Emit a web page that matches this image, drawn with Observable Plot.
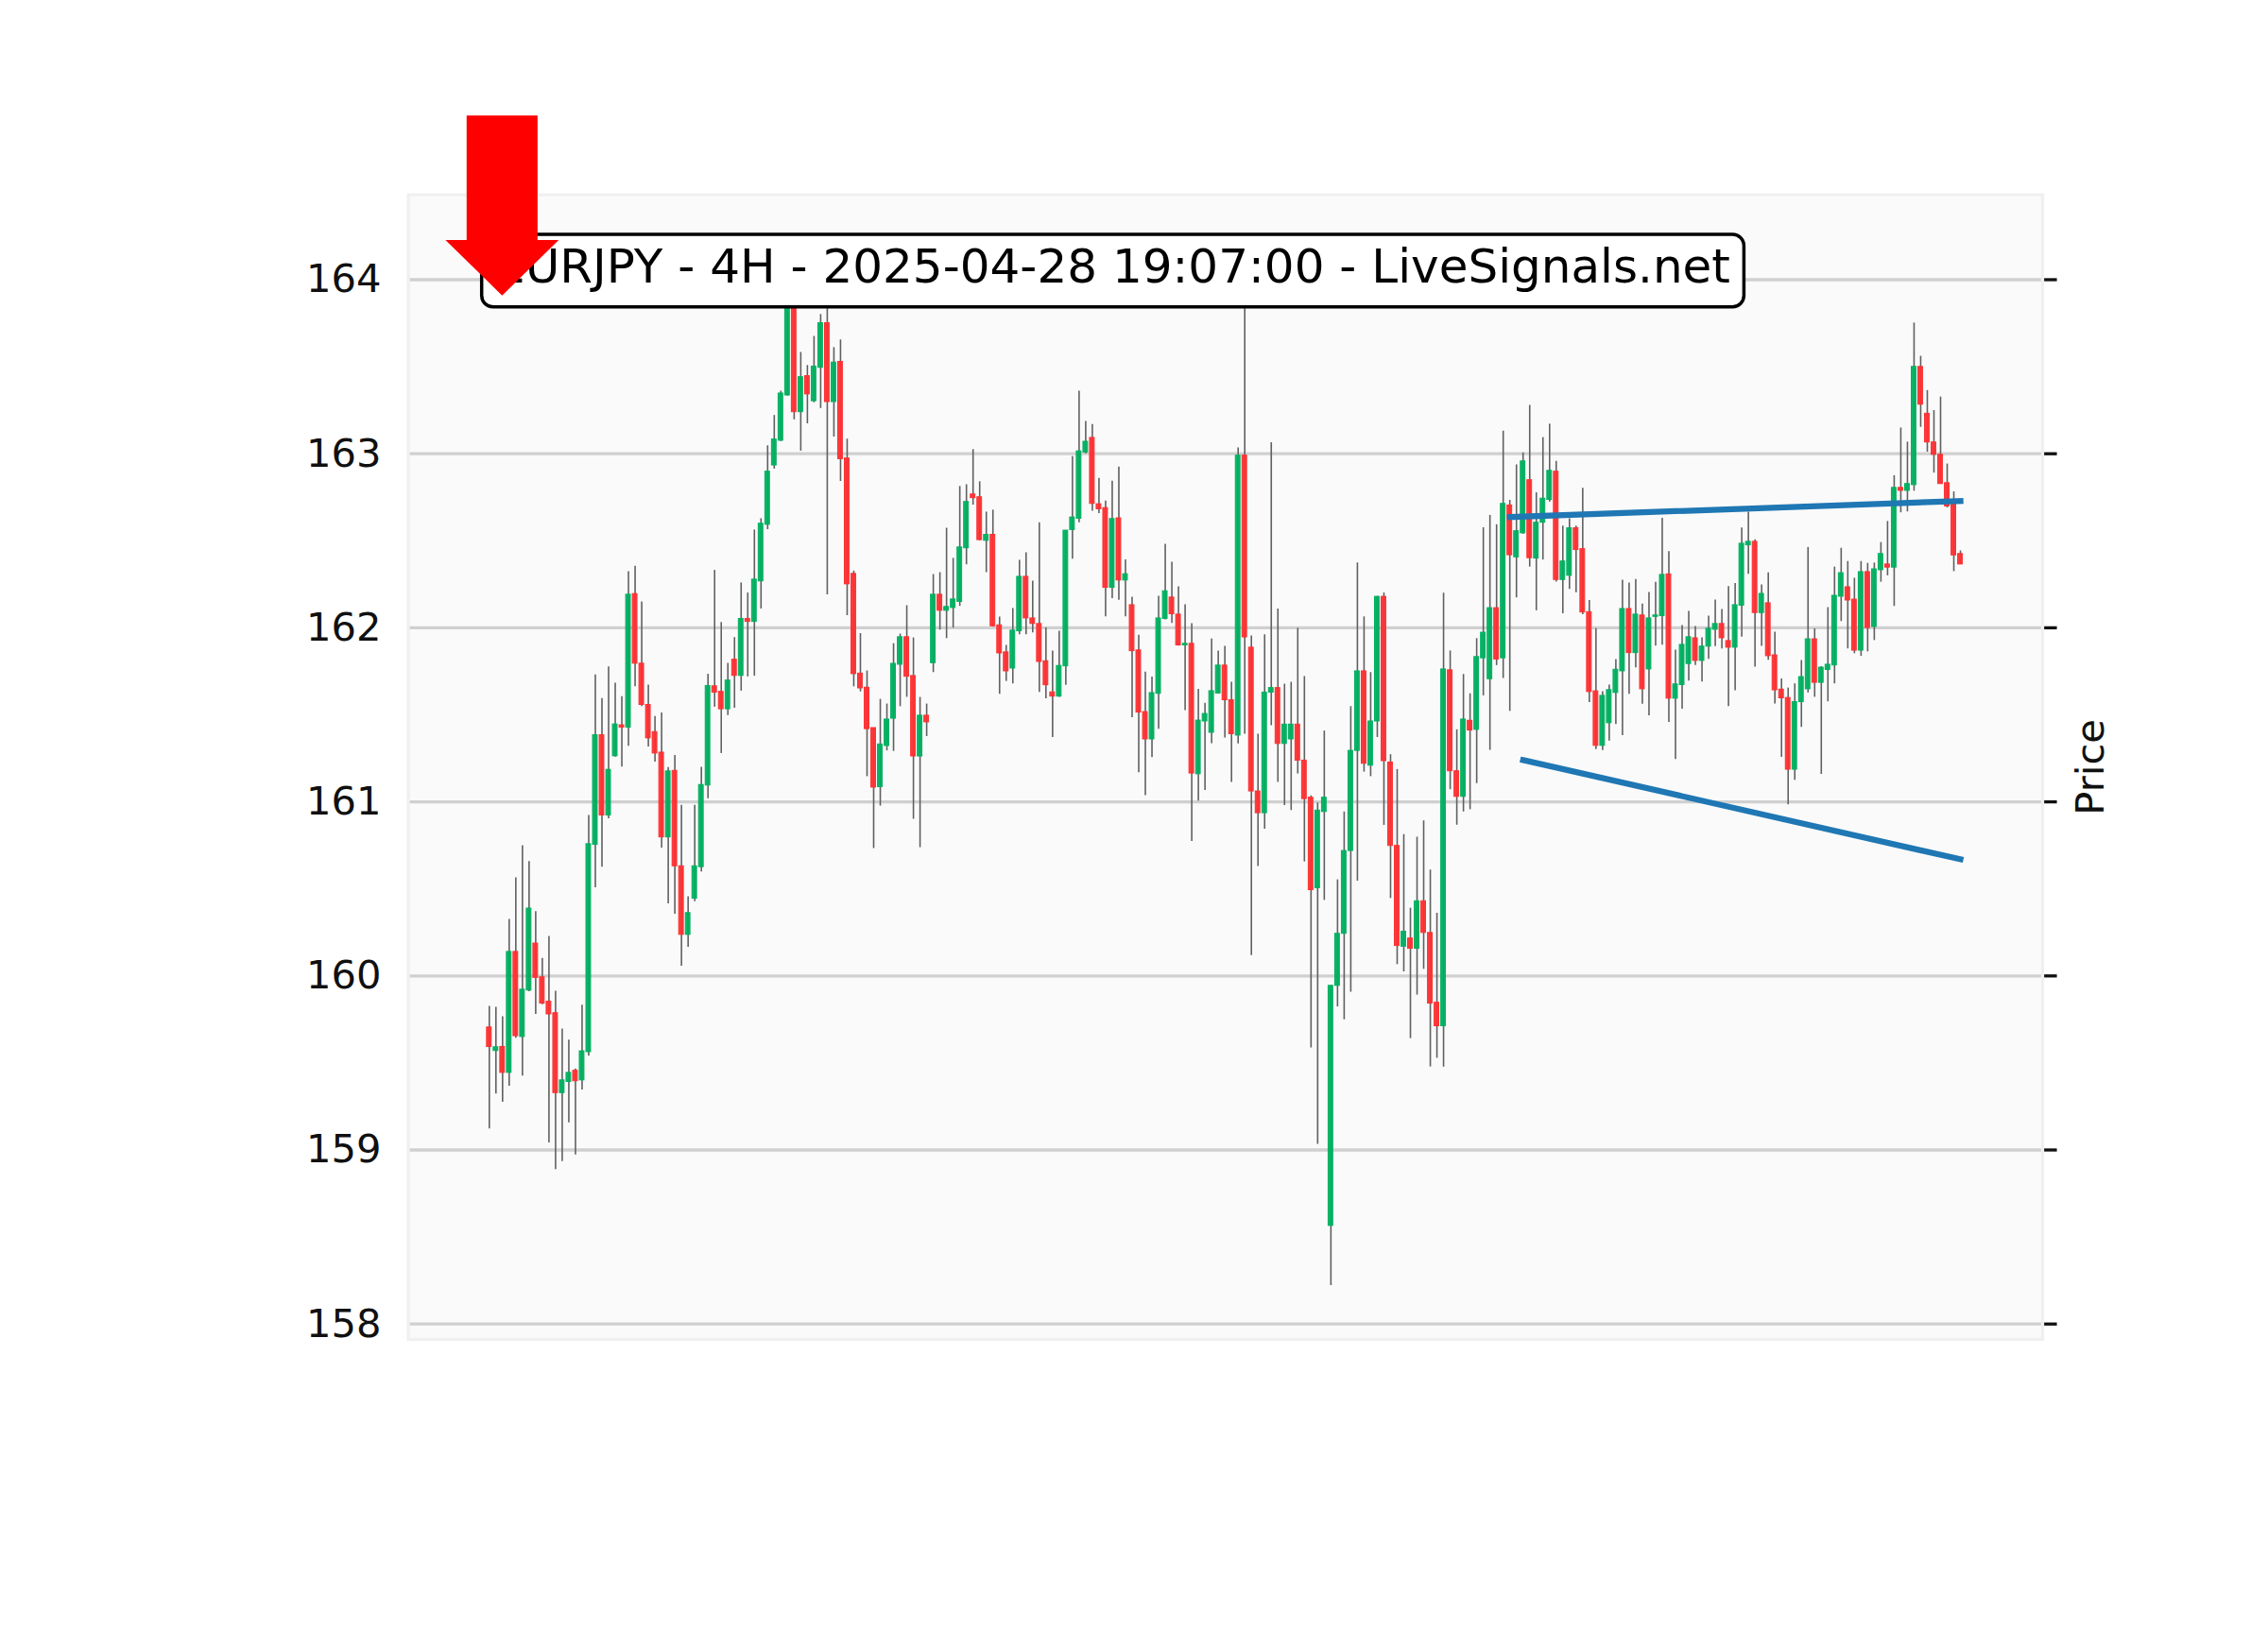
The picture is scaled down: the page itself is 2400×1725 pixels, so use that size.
<!DOCTYPE html>
<html><head><meta charset="utf-8">
<script src="https://cdn.jsdelivr.net/npm/d3@7"></script>
<script src="https://cdn.jsdelivr.net/npm/@observablehq/plot@0.6"></script>
<style>html,body{margin:0;padding:0;background:#fff;}#chart svg{display:block;}</style>
</head><body><div id="chart"></div>
<script>
const opens = [159.704,159.569,159.592,159.443,160.138,159.649,159.916,160.186,159.992,159.852,
159.786,159.327,159.391,159.455,159.400,159.562,160.753,161.383,160.922,161.262,
161.440,161.427,162.194,161.794,161.557,161.401,161.283,160.796,161.178,160.630,
160.236,160.444,160.625,161.094,161.664,161.632,161.532,161.817,161.724,162.051,
162.034,162.267,162.592,162.933,163.075,163.335,163.950,163.239,163.446,163.302,
163.494,163.750,163.297,163.528,162.973,162.310,161.737,161.656,161.424,161.085,
161.321,161.478,161.788,161.946,161.723,161.261,161.495,161.797,162.190,162.098,
162.114,162.149,162.457,162.766,162.750,162.500,162.534,162.014,161.859,161.766,
161.980,162.293,162.054,162.022,161.808,161.629,161.605,161.779,162.562,162.627,
163.007,163.091,162.710,162.688,162.230,162.629,162.272,162.130,161.870,161.516,
161.359,161.621,162.051,162.174,162.076,161.899,161.908,161.159,161.462,161.397,
161.623,161.783,161.584,161.381,162.989,161.886,161.060,160.935,161.628,161.654,
161.333,161.359,161.444,161.237,161.024,160.504,160.942,158.564,159.943,160.242,
160.718,161.293,161.750,161.208,161.462,162.178,161.226,160.747,160.168,160.215,
160.156,160.429,160.247,159.846,159.711,161.756,161.176,161.029,161.466,161.414,
161.825,161.705,162.113,161.825,162.703,162.405,162.543,162.848,162.398,162.604,
162.735,162.897,162.275,162.299,162.572,162.452,162.090,161.635,161.322,161.452,
161.626,161.750,162.108,161.855,162.071,161.761,162.063,162.067,162.307,161.593,
161.671,161.792,161.940,161.810,161.892,161.989,162.022,161.924,161.886,162.127,
162.474,162.494,162.085,162.141,161.842,161.645,161.597,161.185,161.573,161.647,
161.934,161.684,161.758,161.784,162.179,162.233,162.162,161.869,162.320,162.005,
162.331,162.364,162.346,162.804,162.787,162.820,163.499,163.230,163.065,162.994,
162.831,162.726,162.424];
const highs = [159.825,159.820,159.766,160.325,160.563,160.748,160.657,160.369,160.101,160.227,
159.912,159.695,159.631,159.466,159.832,160.922,161.730,161.593,161.776,161.682,
161.605,162.322,162.354,162.149,161.671,161.491,161.511,161.198,161.266,160.980,
160.455,160.980,161.199,161.733,162.330,162.030,161.796,161.944,162.258,162.200,
162.562,162.627,163.046,163.220,163.360,164.050,164.050,163.582,163.507,163.674,
163.800,163.950,163.610,163.654,163.084,162.326,161.967,161.752,161.424,161.589,
161.562,161.909,161.964,162.127,161.942,161.600,161.562,162.306,162.317,162.572,
162.399,162.812,162.822,163.024,162.839,162.665,162.676,162.062,161.899,162.111,
162.388,162.431,162.268,162.603,162.000,161.866,161.980,162.560,162.984,163.359,
163.185,163.168,162.859,162.728,162.842,162.924,162.391,162.176,161.957,161.746,
161.717,162.181,162.480,162.377,162.236,162.132,162.024,161.647,161.567,161.935,
161.866,161.894,161.687,163.033,164.000,161.953,161.389,161.960,163.063,162.108,
161.676,161.687,161.997,161.720,161.035,160.994,161.407,159.943,160.552,160.942,
161.547,162.373,162.063,161.743,162.180,162.200,161.271,161.186,160.812,160.389,
160.797,160.891,160.608,160.360,162.199,161.867,161.414,161.732,161.621,161.938,
162.575,162.646,162.592,163.130,162.732,162.936,163.005,163.278,162.776,163.093,
163.170,162.956,162.585,162.626,162.585,162.801,162.157,161.996,161.633,161.671,
161.817,162.273,162.257,162.278,162.137,162.203,162.262,162.629,162.438,161.872,
162.013,162.094,162.007,161.942,162.067,162.159,162.105,162.237,162.255,162.573,
162.665,162.506,162.246,162.316,161.975,161.706,161.654,161.678,161.812,162.462,
161.994,161.777,162.116,162.349,162.457,162.381,162.285,162.381,162.370,162.372,
162.490,162.611,162.874,163.148,163.067,163.751,163.560,163.363,163.248,163.326,
162.941,162.781,162.442];
const lows = [159.121,159.322,159.274,159.366,159.642,159.425,159.910,159.779,159.835,159.041,
158.888,158.934,159.156,158.971,159.345,159.539,160.506,160.625,160.903,161.257,
161.200,161.319,161.662,161.548,161.315,161.228,160.734,160.414,160.354,160.056,
160.164,160.426,160.597,161.018,161.544,161.278,161.496,161.538,161.636,161.718,
161.722,162.108,162.564,162.912,163.070,163.331,163.195,163.015,163.172,163.293,
163.260,162.189,163.096,162.841,162.070,161.661,161.632,161.145,160.732,160.976,
161.293,161.290,161.547,161.601,160.900,160.737,161.375,161.743,161.987,161.938,
161.998,162.123,162.362,162.705,162.500,162.317,162.005,161.618,161.692,161.678,
161.960,161.960,161.971,161.629,161.592,161.370,161.600,161.670,162.395,162.603,
163.000,162.670,162.656,162.063,162.168,162.158,162.063,161.484,161.167,161.036,
161.254,161.417,162.045,162.025,161.895,161.525,160.772,161.004,161.065,161.335,
161.620,161.367,161.112,161.333,161.389,160.117,160.629,160.843,161.437,161.112,
160.979,160.950,161.160,160.655,159.586,159.032,160.434,158.221,159.822,159.748,
159.906,160.544,161.171,161.145,161.370,160.865,160.445,160.065,160.023,159.640,
159.890,160.038,159.477,159.527,159.477,161.070,160.866,160.942,160.955,161.105,
161.609,161.296,161.783,161.709,161.520,162.172,162.538,162.349,162.098,162.390,
162.722,162.263,162.081,162.221,162.201,162.076,161.570,161.300,161.295,161.349,
161.445,161.380,161.618,161.770,161.561,161.494,161.895,161.901,161.456,161.244,
161.532,161.694,161.783,161.689,161.819,161.892,161.879,161.548,161.638,161.946,
162.307,161.774,161.893,161.814,161.563,161.256,160.983,161.124,161.428,161.626,
161.601,161.158,161.575,161.678,162.036,161.879,161.851,161.836,161.862,161.927,
162.262,162.299,162.123,162.661,162.666,162.785,163.152,163.009,162.889,162.826,
162.689,162.323,162.364];
const closes = [159.592,159.590,159.443,160.138,159.654,159.921,160.387,159.989,159.841,159.779,
159.327,159.400,159.443,159.395,159.567,160.757,161.383,160.922,161.184,161.445,
161.427,162.190,161.794,161.557,161.365,161.278,160.796,161.175,160.630,160.236,
160.361,160.630,161.097,161.666,161.628,161.532,161.697,161.724,162.051,162.034,
162.277,162.598,162.897,163.082,163.346,163.950,163.239,163.440,163.341,163.501,
163.750,163.297,163.524,162.969,162.250,161.734,161.652,161.418,161.082,161.330,
161.473,161.793,161.946,161.719,161.261,161.495,161.457,162.190,162.098,162.120,
162.163,162.462,162.723,162.745,162.504,162.534,162.009,161.853,161.750,161.984,
162.293,162.054,162.022,161.804,161.670,161.605,161.781,162.558,162.634,163.014,
163.069,162.712,162.681,162.230,162.625,162.272,162.308,161.866,161.513,161.359,
161.625,162.054,162.210,162.078,161.899,161.908,161.163,161.467,161.505,161.636,
161.783,161.584,161.389,162.989,161.945,161.060,160.935,161.628,161.654,161.333,
161.444,161.444,161.237,161.016,160.493,160.950,161.024,159.943,160.242,160.718,
161.293,161.750,161.219,161.462,162.178,161.234,160.747,160.172,160.254,160.156,
160.429,160.247,159.841,159.711,161.761,161.176,161.029,161.473,161.410,161.832,
161.972,162.113,161.818,162.712,162.417,162.555,162.956,162.400,162.604,162.742,
162.902,162.275,162.381,162.572,162.447,162.088,161.631,161.322,161.609,161.642,
161.759,162.108,161.855,162.076,161.647,162.054,162.071,162.304,161.593,161.675,
161.902,161.946,161.810,161.892,161.995,162.022,161.940,161.886,162.130,162.483,
162.494,162.085,162.195,161.837,161.641,161.595,161.185,161.573,161.717,161.934,
161.684,161.771,161.788,162.184,162.314,162.157,161.869,162.320,161.999,162.336,
162.424,162.346,162.804,162.787,162.826,163.499,163.282,163.065,162.994,162.826,
162.698,162.416,162.364];

const yTicks = [158, 159, 160, 161, 162, 163, 164];
const titleText = "EURJPY - 4H - 2025-04-28 19:07:00 - LiveSignals.net";
const axisLabel = "Price";
// trend lines: candle index and price at both ends
const upperIdx = [154, 222];
const upperPrice = [162.636, 162.729];
const lowerIdx = [156, 222];
const lowerPrice = [161.24, 160.67];
// signal arrow: candle index, start price, tip price
const arrowIdx = 2;
const arrowFrom = 164.94;
const arrowTo = 163.907;

const candles = opens.map((o, i) => ({i, open: o, high: highs[i], low: lows[i], close: closes[i], up: closes[i] >= o}));
const upper = upperIdx.map((i, k) => ({i, price: upperPrice[k]}));
const lower = lowerIdx.map((i, k) => ({i, price: lowerPrice[k]}));

const FONT = "'DejaVu Sans', sans-serif";
const UP = "#00b060", DOWN = "#fe3032";
const TITLE_FS = 50, TITLE_PAD = 14.4;

function titleBox(index, scales, values, dim) {
  const left = dim.marginLeft + 78.1;
  const top = dim.marginTop + 42.3;
  const g = d3.create("svg:g").attr("class", "title-box");
  g.append("rect").attr("x", left).attr("y", top)
    .attr("width", 1337).attr("height", 48 + 2 * TITLE_PAD)
    .attr("rx", 12).attr("ry", 12)
    .attr("fill", "#ffffff").attr("stroke", "#000").attr("stroke-width", 3.5);
  g.append("text").attr("x", left + TITLE_PAD).attr("y", top + TITLE_PAD + 0.76 * 48)
    .attr("text-anchor", "start")
    .attr("font-family", FONT).attr("font-size", TITLE_FS).attr("fill", "#000")
    .text(titleText);
  return g.node();
}

function arrowMark(index, scales) {
  const x = scales.x, y = scales.y;
  const cx = x(arrowIdx);
  const sh = x(arrowIdx + 5.35) - cx;
  const hh = x(arrowIdx + 8.55) - cx;
  const top = y(arrowFrom), tip = y(arrowTo), base = y(arrowTo + 0.318);
  const pts = [[cx - sh, top], [cx + sh, top], [cx + sh, base], [cx + hh, base], [cx, tip], [cx - hh, base], [cx - sh, base]];
  const g = d3.create("svg:g");
  g.append("polygon").attr("points", pts.map(p => p.join(",")).join(" ")).attr("fill", "#ff0000");
  return g.node();
}

const chart = Plot.plot({
  width: 2400, height: 1725,
  marginLeft: 431.6, marginRight: 239, marginTop: 205.7, marginBottom: 308,
  x: {domain: [-12.22, 234.4], axis: null},
  y: {domain: [157.9115, 164.4875], axis: null},
  style: {fontFamily: FONT, fontSize: "41.67px", color: "#101010", background: "#ffffff", overflow: "visible"},
  marks: [
    Plot.frame({fill: "#fafafa", stroke: null}),
    Plot.gridY(yTicks, {stroke: "#d0d0d0", strokeOpacity: 1, strokeWidth: 3.3}),
    Plot.axisY(yTicks, {anchor: "left", tickSize: 0, tickPadding: 28.6, fontSize: 41.67, label: null, fill: "#101010", tickFormat: d => String(d)}),
    Plot.axisY(yTicks, {anchor: "right", tickSize: 14.6, tickFormat: () => "", label: null, stroke: "#101010", strokeWidth: 3.3}),
    Plot.text([axisLabel], {text: d => d, frameAnchor: "right", textAnchor: "middle", dx: 51.5, rotate: -90, fontSize: 41.67, fill: "#101010"}),
    Plot.ruleX(candles, {x: "i", y1: "low", y2: "high", stroke: "#606060", strokeWidth: 1.6}),
    Plot.rect(candles, {x1: d => d.i - 0.35, x2: d => d.i + 0.35, y1: "open", y2: "close", inset: 0,
      fill: d => d.up ? UP : DOWN, stroke: d => d.up ? UP : DOWN, strokeWidth: 1, fillOpacity: 0.95}),
    Plot.line(upper, {x: "i", y: "price", stroke: "#1f77b4", strokeWidth: 6.25, strokeLinecap: "square"}),
    Plot.line(lower, {x: "i", y: "price", stroke: "#1f77b4", strokeWidth: 6.25, strokeLinecap: "square"}),
    Plot.frame({stroke: "#f0f0f0", strokeWidth: 3.3, fill: null}),
    titleBox,
    arrowMark
  ]
});
document.getElementById("chart").appendChild(chart);
// size the title box to its text
const tb = chart.querySelector(".title-box");
if (tb) {
  const t = tb.querySelector("text");
  const len = t.getComputedTextLength();
  if (len > 0) tb.querySelector("rect").setAttribute("width", len + 2 * TITLE_PAD);
}
</script>
</body></html>
